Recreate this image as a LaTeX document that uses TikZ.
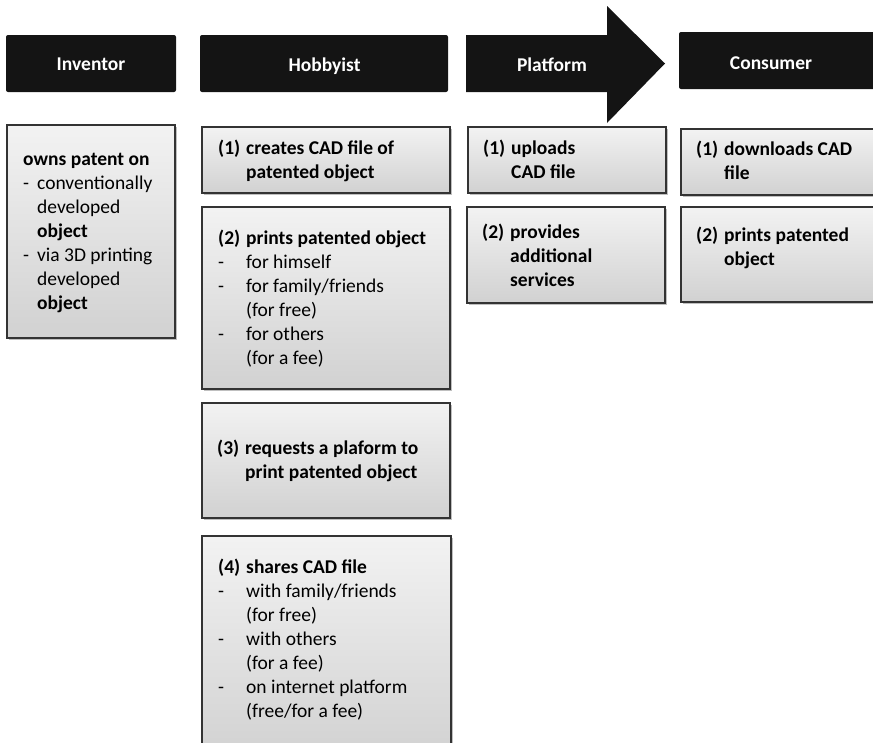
\documentclass[tikz,border=0pt]{standalone}
\usepackage{fontspec}
\setmainfont{Carlito}
\usetikzlibrary{shadows}
\definecolor{hdr}{HTML}{141414}
\definecolor{boxline}{HTML}{333333}
\tikzset{
  hdrbox/.style={fill=hdr, rounded corners=2pt, draw=none},
  arrowshape/.style={fill=hdr, draw=none},
  graybox/.style={draw=boxline, line width=1.3pt, top color=gray!10, bottom color=gray!36,
    drop shadow={opacity=0.25, shadow xshift=1.5pt, shadow yshift=-2pt, fill=black}},
  hdrtext/.style={text=white, font=\bfseries\fontsize{19.5}{23}\selectfont, inner sep=0pt, anchor=base},
  bodytext/.style={font=\fontsize{19.5}{24}\selectfont, inner sep=0pt, anchor=base west},
}
\newcommand{\hang}[1]{\begin{tabular}[t]{@{}p{28pt}@{}l@{}}#1\end{tabular}}
\begin{document}
\begin{tikzpicture}[x=1pt,y=-1pt]
\useasboundingbox (0,0) rectangle (873,742);
\clip (0,0) rectangle (873,742);
% headers
\path[hdrbox] (6,35) rectangle (176,92);
\path[hdrbox] (200,35) rectangle (448,92);
\path[arrowshape] (466,35) -- (607,35) -- (607,6) -- (665,63.5) -- (607,123) -- (607,92) -- (466,92) -- cycle;
\path[hdrbox] (679,32) rectangle (890,89);
\node[hdrtext] (hinv) at (91,70.7) {Inventor};
\node[hdrtext] (hhob) at (324.5,71) {Hobbyist};
\node[hdrtext] (hplat) at (552,71.7) {Platform};
\node[hdrtext] (hcons) at (771,69.3) {Consumer};
% gray boxes
\path[graybox] (7,125) rectangle (175,338);
\path[graybox] (202,127) rectangle (450,193);
\path[graybox] (202,207) rectangle (450,389);
\path[graybox] (202,403) rectangle (450,518);
\path[graybox] (202,536) rectangle (451,760);
\path[graybox] (468,127) rectangle (666,193);
\path[graybox] (467,207) rectangle (665,303);
\path[graybox] (681,129) rectangle (890,195);
\path[graybox] (681,207) rectangle (890,302);
% texts
\node[bodytext] (tinv) at (23,165) {\begin{tabular}[t]{@{}p{14pt}@{}l@{}}
\multicolumn{2}{@{}l@{}}{\textbf{owns patent on}}\\
- & conventionally\\
  & developed\\
  & \textbf{object}\\
- & via 3D printing\\
  & developed\\
  & \textbf{object}
\end{tabular}};
\node[bodytext] (th1) at (218,154) {\hang{\textbf{(1)} & \textbf{creates CAD file of}\\ & \textbf{patented object}}};
\node[bodytext] (th2) at (218,244) {\hang{\textbf{(2)} & \textbf{prints patented object}\\
- & for himself\\
- & for family/friends\\
  & (for free)\\
- & for others\\
  & (for a fee)}};
\node[bodytext] (th3) at (217,454) {\hang{\textbf{(3)} & \textbf{requests a plaform to}\\ & \textbf{print patented object}}};
\node[bodytext] (th4) at (218,573) {\hang{\textbf{(4)} & \textbf{shares CAD file}\\
- & with family/friends\\
  & (for free)\\
- & with others\\
  & (for a fee)\\
- & on internet platform\\
  & (free/for a fee)}};
\node[bodytext] (tp1) at (483,154) {\hang{\textbf{(1)} & \textbf{uploads}\\ & \textbf{CAD file}}};
\node[bodytext] (tp2) at (482,238) {\hang{\textbf{(2)} & \textbf{provides}\\ & \textbf{additional}\\ & \textbf{services}}};
\node[bodytext] (tc1) at (696,155) {\hang{\textbf{(1)} & \textbf{downloads CAD}\\ & \textbf{file}}};
\node[bodytext] (tc2) at (696,241) {\hang{\textbf{(2)} & \textbf{prints patented}\\ & \textbf{object}}};
\end{tikzpicture}
\end{document}
